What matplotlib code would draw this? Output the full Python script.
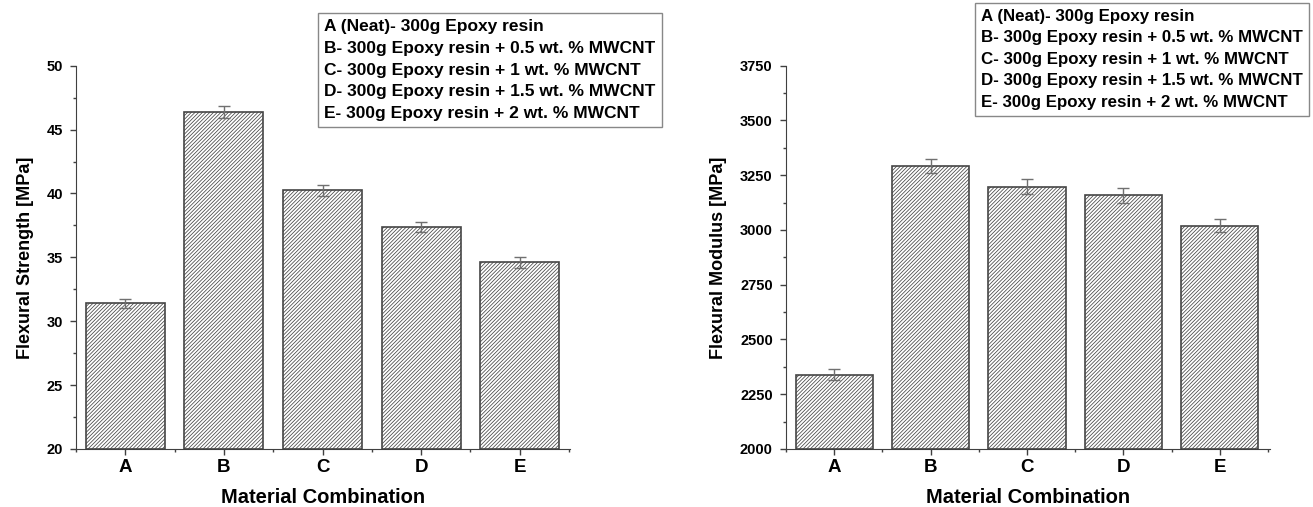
import numpy as np
import matplotlib.pyplot as plt
from matplotlib.lines import Line2D
from matplotlib.ticker import MultipleLocator, AutoMinorLocator

plt.rcParams['font.family'] = ['Liberation Sans', 'DejaVu Sans']
plt.rcParams['font.weight'] = 'bold'
plt.rcParams['hatch.linewidth'] = 0.55
plt.rcParams['hatch.color'] = '#969696'

# Data
categories = ['A', 'B', 'C', 'D', 'E']
strength = [31.4, 46.35, 40.25, 37.4, 34.6]
strength_err = [0.33, 0.48, 0.42, 0.4, 0.4]
modulus = [2340, 3290, 3198, 3158, 3020]
modulus_err = [23, 32, 33, 34, 30]
legend_labels = [
    'A (Neat)- 300g Epoxy resin',
    'B- 300g Epoxy resin + 0.5 wt. % MWCNT',
    'C- 300g Epoxy resin + 1 wt. % MWCNT',
    'D- 300g Epoxy resin + 1.5 wt. % MWCNT',
    'E- 300g Epoxy resin + 2 wt. % MWCNT',
]

fig = plt.figure(figsize=(13.13, 5.07), dpi=100)
ax1 = fig.add_axes([76 / 1313, 0.1144, 494 / 1313, 0.756])
ax2 = fig.add_axes([786 / 1313, 0.1144, 484 / 1313, 0.756])


def draw_panel(ax, values, errs, ylim, major, ylabel, xlim):
    x = np.arange(len(categories))
    ax.bar(x, [v - ylim[0] for v in values], bottom=ylim[0], width=0.8,
           color='white', edgecolor='#454545', linewidth=1.2, hatch='/////////')
    ax.errorbar(x, values, yerr=errs, fmt='none', ecolor='#707070',
                elinewidth=1.0, capsize=4, capthick=1.0)
    ax.set_ylim(*ylim)
    ax.set_xlim(*xlim)
    ax.set_xticks(x)
    ax.set_xticklabels(categories, fontsize=13.5, fontweight='bold')
    ax.xaxis.set_minor_locator(MultipleLocator(0.5))
    ax.yaxis.set_major_locator(MultipleLocator(major))
    ax.yaxis.set_minor_locator(AutoMinorLocator(2))
    ax.tick_params(axis='y', labelsize=10.5, pad=5)
    ax.tick_params(axis='x', pad=3)
    ax.tick_params(which='major', direction='out', length=4.5, width=1, color='#404040')
    ax.tick_params(which='minor', direction='out', length=2.5, width=1, color='#404040')
    for lab in ax.get_yticklabels():
        lab.set_fontweight('bold')
    ax.spines['top'].set_visible(False)
    ax.spines['right'].set_visible(False)
    ax.spines['left'].set_color('#404040')
    ax.spines['bottom'].set_color('#404040')
    ax.set_ylabel(ylabel, fontsize=13, fontweight='bold', labelpad=9)
    ax.set_xlabel('Material Combination', fontsize=14.5, fontweight='bold', labelpad=8)


draw_panel(ax1, strength, strength_err, (20, 50), 5, 'Flexural Strength [MPa]', (-0.5, 4.51))
draw_panel(ax2, modulus, modulus_err, (2000, 3750), 250, 'Flexural Modulus [MPa]', (-0.5, 4.52))

handles = [Line2D([], [], linestyle='none') for _ in legend_labels]
for ax, anchor, fs in [(ax1, (318 / 1313, 1 - 13 / 507), 12.5),
                       (ax2, (975 / 1313, 1 - 3 / 507), 12.2)]:
    leg = ax.legend(handles, legend_labels, loc='upper left', bbox_to_anchor=anchor,
                    bbox_transform=fig.transFigure, handlelength=0, handletextpad=0,
                    fontsize=fs, labelspacing=0.38, borderpad=0.35, borderaxespad=0,
                    fancybox=False, framealpha=1, edgecolor='#888888')
    leg.get_frame().set_linewidth(1.0)
    for t in leg.get_texts():
        t.set_fontweight('bold')

fig.savefig('out.png', dpi=100)
